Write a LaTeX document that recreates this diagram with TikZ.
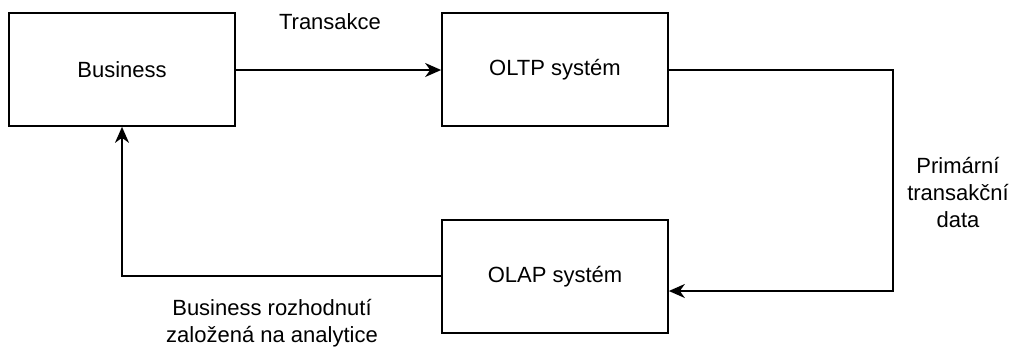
\documentclass[tikz,border=0pt]{standalone}
\usepackage{fontspec}
\setmainfont{Liberation Sans}
\usetikzlibrary{arrows.meta}
\begin{document}
\begin{tikzpicture}[x=1pt,y=-1pt,
  block/.style={draw, line width=1.7pt, minimum width=226pt, minimum height=113pt,
    inner sep=0pt, font=\fontsize{22}{26}\selectfont},
  flow/.style={line width=1.7pt, -{Stealth[length=16pt,width=14pt,inset=5pt]}},
  lbl/.style={align=center, font=\fontsize{22}{27}\selectfont}]
\useasboundingbox (0,0) rectangle (1022,349);
\fill[white] (0,0) rectangle (1022,349);
\node[block] (biz)  at (122,69.5) {Business};
\node[block] (oltp) at (555,69.5) {OLTP systém};
\node[block] (olap) at (555,276.5) {OLAP systém};
\coordinate (c1) at (893,70);
\coordinate (c2) at (893,291);
\coordinate (c3) at (122,276);
\draw[flow] (biz.east |- 0,70) -- (oltp.west |- 0,70);
\draw[flow] (oltp.east |- c1) -- (c1) -- (c2) -- (olap.east |- c2);
\draw[flow] (olap.west |- c3) -- (c3) -- (biz.south);
\node[lbl] (t1) at (330,22) {Transakce};
\node[lbl] (t2) at (958,193) {Primární\\transakční\\data};
\node[lbl] (t3) at (272,323) {Business rozhodnutí\\založená na analytice};
\end{tikzpicture}
\end{document}
